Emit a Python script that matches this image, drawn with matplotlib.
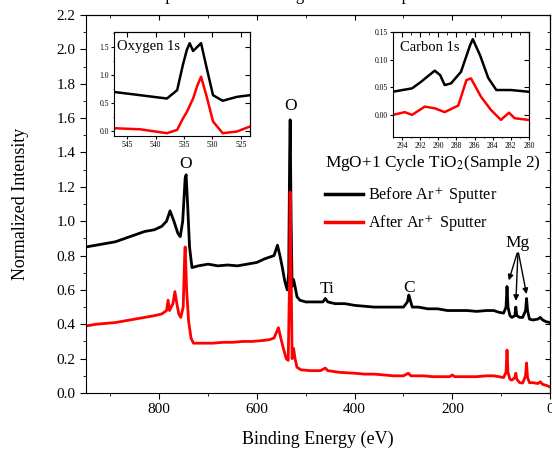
import matplotlib
matplotlib.use('Agg')
import matplotlib.pyplot as plt
from matplotlib.ticker import MultipleLocator

plt.rcParams['font.family'] = ['Liberation Serif', 'DejaVu Serif']
plt.rcParams['mathtext.fontset'] = 'stix'

# Survey spectrum, before sputter (binding energy eV, normalized intensity)
before_x = [950, 930, 910, 890, 870, 850, 830, 810, 795, 785, 778, 770, 762, 757, 752, 747, 745,
            742, 738, 733, 720, 700, 680, 660, 640, 620, 600, 585, 575, 565, 558, 553, 548, 543,
            538, 535, 533, 532, 530, 528, 525, 522, 518, 512, 500, 480, 465, 460, 455, 440, 420,
            400, 380, 360, 340, 320, 300, 292, 289, 286, 282, 270, 250, 230, 210, 190, 170, 150,
            130, 115, 105, 95, 90, 88, 86, 82, 78, 72, 70, 68, 62, 56, 50, 48, 46, 42, 35, 25,
            20, 15, 8, 0]
before_y = [0.85, 0.86, 0.87, 0.88, 0.90, 0.92, 0.94, 0.95, 0.97, 1.00, 1.06, 1.00, 0.93, 0.91,
            1.00, 1.25, 1.27, 1.10, 0.85, 0.73, 0.74, 0.75, 0.74, 0.745, 0.74, 0.75, 0.76, 0.78,
            0.79, 0.80, 0.86, 0.80, 0.73, 0.65, 0.60, 0.70, 1.40, 1.59, 1.00, 0.62, 0.66, 0.62,
            0.56, 0.54, 0.53, 0.53, 0.53, 0.55, 0.53, 0.52, 0.52, 0.51, 0.505, 0.50, 0.50, 0.50,
            0.50, 0.53, 0.57, 0.54, 0.50, 0.50, 0.49, 0.49, 0.48, 0.48, 0.48, 0.475, 0.48, 0.48,
            0.47, 0.465, 0.50, 0.62, 0.50, 0.45, 0.44, 0.45, 0.50, 0.45, 0.44, 0.44, 0.48, 0.55,
            0.48, 0.43, 0.425, 0.43, 0.44, 0.425, 0.415, 0.41]

# Survey spectrum, after sputter
after_x = [950, 930, 910, 890, 870, 850, 830, 810, 795, 785, 782, 779, 772, 768, 764, 760, 756,
           751, 748, 747, 744, 740, 735, 730, 710, 690, 670, 650, 630, 610, 590, 575, 565, 559,
           556, 552, 546, 540, 536, 533, 532, 530, 528, 525, 522, 518, 510, 490, 470, 460, 455,
           430, 400, 380, 360, 340, 320, 300, 290, 285, 260, 240, 220, 205, 200, 195, 170, 150,
           130, 115, 105, 95, 90, 88, 86, 82, 78, 72, 70, 68, 62, 56, 50, 48, 46, 42, 35, 25,
           20, 15, 8, 0]
after_y = [0.39, 0.40, 0.405, 0.41, 0.42, 0.43, 0.44, 0.45, 0.46, 0.48, 0.54, 0.48, 0.52, 0.59,
           0.52, 0.46, 0.44, 0.50, 0.80, 0.85, 0.60, 0.42, 0.32, 0.29, 0.29, 0.29, 0.295, 0.295,
           0.30, 0.30, 0.305, 0.31, 0.32, 0.36, 0.38, 0.33, 0.26, 0.20, 0.19, 0.70, 1.17, 0.70,
           0.20, 0.26, 0.20, 0.15, 0.135, 0.13, 0.13, 0.145, 0.13, 0.12, 0.115, 0.11, 0.11,
           0.105, 0.10, 0.10, 0.115, 0.10, 0.10, 0.095, 0.095, 0.095, 0.105, 0.095, 0.095,
           0.095, 0.10, 0.10, 0.095, 0.09, 0.12, 0.25, 0.12, 0.08, 0.075, 0.09, 0.115, 0.08,
           0.06, 0.058, 0.10, 0.175, 0.09, 0.06, 0.06, 0.055, 0.065, 0.05, 0.045, 0.035]

# O 1s inset
o_x = [547.5, 542.7, 538.0, 536.2, 535.2, 534.5, 534.0, 533.4, 532.7, 532.0, 531.0, 529.9,
       528.2, 525.7, 523.4]
o_before = [0.70, 0.64, 0.58, 0.73, 1.18, 1.45, 1.57, 1.43, 1.50, 1.57, 1.12, 0.64, 0.54,
            0.61, 0.64]
o_after = [0.05, 0.03, -0.04, 0.02, 0.22, 0.34, 0.45, 0.58, 0.80, 0.97, 0.61, 0.17, -0.04,
           -0.01, 0.08]

# C 1s inset
c_x_before = [295.0, 292.9, 291.9, 290.4, 289.8, 289.3, 288.6, 287.5, 286.5, 286.2, 285.4,
              284.5, 283.6, 282.0, 280.1]
c_before = [0.042, 0.048, 0.060, 0.080, 0.072, 0.054, 0.057, 0.078, 0.126, 0.137, 0.108,
            0.067, 0.045, 0.045, 0.042]
c_x_after = [295.0, 293.7, 292.9, 291.5, 290.4, 289.3, 287.8, 286.9, 286.4, 285.3, 284.2,
             283.1, 282.2, 281.6, 280.1]
c_after = [0.000, 0.005, 0.000, 0.015, 0.012, 0.005, 0.017, 0.063, 0.066, 0.033, 0.009,
           -0.009, 0.004, -0.006, -0.009]

title = 'Comparison of the Changes Before Ar Sputter'
legend_title = 'MgO+1 Cycle TiO$_2$(Sample 2)'
labels = ['Before Ar$^+$ Sputter', 'After Ar$^+$ Sputter']


def style_axes(ax, size):
    ax.tick_params(which='both', direction='out', top=False, right=False, labelsize=size)
    ax.tick_params(which='major', length=4)
    ax.tick_params(which='minor', length=2)
    sec_x = ax.secondary_xaxis('top')
    sec_x.tick_params(which='both', direction='in', labeltop=False)
    sec_y = ax.secondary_yaxis('right')
    sec_y.tick_params(which='both', direction='in', labelright=False)
    return sec_x, sec_y


fig = plt.figure(figsize=(5.52, 4.54), dpi=100)
ax = fig.add_axes([86 / 552, 61 / 454, 464 / 552, 378 / 454])

ax.plot(before_x, before_y, color='black', lw=2.0, label=labels[0])
ax.plot(after_x, after_y, color='red', lw=2.0, label=labels[1])
ax.set_xlim(950, 0)
ax.set_ylim(0, 2.2)
ax.xaxis.set_major_locator(MultipleLocator(200))
ax.xaxis.set_minor_locator(MultipleLocator(100))
ax.yaxis.set_major_locator(MultipleLocator(0.2))
ax.yaxis.set_minor_locator(MultipleLocator(0.1))
ax.yaxis.set_major_formatter(lambda v, p: f'{v:.1f}')
sx, sy = style_axes(ax, 11)
sx.xaxis.set_major_locator(MultipleLocator(200))
sx.xaxis.set_minor_locator(MultipleLocator(100))
sy.yaxis.set_major_locator(MultipleLocator(0.2))
sy.yaxis.set_minor_locator(MultipleLocator(0.1))
ax.set_xlabel('Binding Energy (eV)', fontsize=13, labelpad=10)
ax.set_ylabel('Normalized Intensity', fontsize=13, labelpad=20)

ax.text(747, 1.31, 'O', fontsize=12.5, ha='center', va='baseline')
ax.text(532, 1.65, 'O', fontsize=12.5, ha='center', va='baseline')
ax.text(457, 0.58, 'Ti', fontsize=12.5, ha='center', va='baseline')
ax.text(289, 0.59, 'C', fontsize=12.5, ha='center', va='baseline')
ax.text(66, 0.85, 'Mg', fontsize=12.5, ha='center', va='baseline')
for tx, ty in [(86, 0.64), (70, 0.52), (47, 0.56)]:
    ax.annotate('', xy=(tx, ty), xytext=(65.5, 0.83),
                arrowprops=dict(arrowstyle='-|>', color='black', lw=1.0, mutation_scale=8))

leg = ax.legend(title=legend_title, loc='upper left', bbox_to_anchor=(0.49, 0.665),
                frameon=False, fontsize=11.6, title_fontsize=12.4, handlelength=2.4,
                handletextpad=0.3, labelspacing=0.5, borderaxespad=0.3)
leg._legend_box.align = 'left'
leg._legend_box.sep = 9
for h in leg.legend_handles:
    h.set_linewidth(2.5)

fig.text(0.52, 1.0, title, fontsize=12, ha='center', va='baseline')

# Oxygen 1s inset
axo = fig.add_axes([114 / 552, (454 - 136) / 454, 136 / 552, 104 / 454])
axo.plot(o_x, o_before, color='black', lw=1.8)
axo.plot(o_x, o_after, color='red', lw=1.8)
axo.set_xlim(547.3, 523.4)
axo.set_ylim(-0.09, 1.77)
axo.xaxis.set_major_locator(MultipleLocator(5))
axo.yaxis.set_major_locator(MultipleLocator(0.5))
axo.yaxis.set_minor_locator(MultipleLocator(0.25))
axo.yaxis.set_major_formatter(lambda v, p: f'{v:.1f}')
ox, oy = style_axes(axo, 5.5)
ox.xaxis.set_major_locator(MultipleLocator(5))
oy.yaxis.set_major_locator(MultipleLocator(0.5))
axo.tick_params(which='major', length=2, pad=1.5)
axo.tick_params(which='minor', length=1)
axo.text(0.02, 0.86, 'Oxygen 1s', transform=axo.transAxes, fontsize=10.5, va='center')

# Carbon 1s inset
axc = fig.add_axes([393 / 552, (454 - 137) / 454, 136 / 552, 105 / 454])
axc.plot(c_x_before, c_before, color='black', lw=1.8)
axc.plot(c_x_after, c_after, color='red', lw=1.8)
axc.set_xlim(295, 280)
axc.set_ylim(-0.04, 0.15)
axc.xaxis.set_major_locator(MultipleLocator(2))
axc.xaxis.set_minor_locator(MultipleLocator(1))
axc.yaxis.set_major_locator(MultipleLocator(0.05))
axc.yaxis.set_major_formatter(lambda v, p: f'{v:.2f}')
cx, cy = style_axes(axc, 5.5)
cx.xaxis.set_major_locator(MultipleLocator(2))
cx.xaxis.set_minor_locator(MultipleLocator(1))
cy.yaxis.set_major_locator(MultipleLocator(0.05))
axc.tick_params(which='major', length=2, pad=1.5)
axc.tick_params(which='minor', length=1)
axc.text(0.05, 0.85, 'Carbon 1s', transform=axc.transAxes, fontsize=10.5, va='center')

fig.savefig('out.png', dpi=100)
